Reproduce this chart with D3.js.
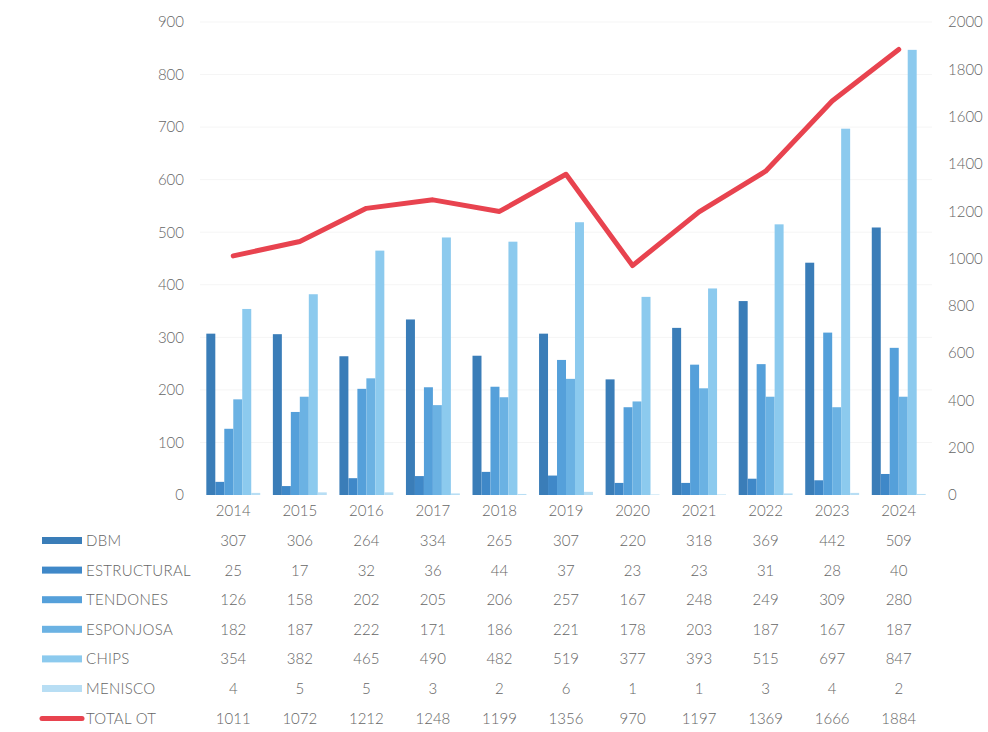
<!DOCTYPE html>
<html>
<head>
<meta charset="utf-8">
<script src="https://cdn.jsdelivr.net/npm/d3@7"></script>
<style>
  body { margin: 0; background: #fff; }
  text { font-family: Lato, "Open Sans", sans-serif; fill: #666; font-weight: 300; }
</style>
</head>
<body>
<script>
//data
var years = ["2014","2015","2016","2017","2018","2019","2020","2021","2022","2023","2024"];
var series = ["DBM","ESTRUCTURAL","TENDONES","ESPONJOSA","CHIPS","MENISCO"];
var dbm = [307,306,264,334,265,307,220,318,369,442,509];
var estructural = [25,17,32,36,44,37,23,23,31,28,40];
var tendones = [126,158,202,205,206,257,167,248,249,309,280];
var esponjosa = [182,187,222,171,186,221,178,203,187,167,187];
var chips = [354,382,465,490,482,519,377,393,515,697,847];
var menisco = [4,5,5,3,2,6,1,1,3,4,2];
var totalOT = [1011,1072,1212,1248,1199,1356,970,1197,1369,1666,1884];
var leftTicks = [0,100,200,300,400,500,600,700,800,900];
var rightTicks = [0,200,400,600,800,1000,1200,1400,1600,1800,2000];
var colors = ["#3a7db8","#3f88c8","#55a0da","#6bb2e3","#8ccaee","#b8def4"];
var lineColor = "#e8434f";

var w = 988, h = 732;
var values = [dbm, estructural, tendones, esponjosa, chips, menisco];

window.onload = function(){
    var svg = d3.select("body").append("svg")
        .attr("width", w)
        .attr("height", h);

    var x0 = d3.scaleBand().domain(years).range([200, 932]).paddingInner(0.19).paddingOuter(0.095);
    var x1 = d3.scaleBand().domain(series).range([0, x0.bandwidth()]);
    var yL = d3.scaleLinear().domain([0, 900]).range([495, 22]);
    var yR = d3.scaleLinear().domain([0, 2000]).range([495, 22]);

    //faint gridlines
    svg.append("g").selectAll("line")
        .data(leftTicks.slice(1))
        .enter().append("line")
        .attr("x1", 200).attr("x2", 932)
        .attr("y1", function(d){ return yL(d); })
        .attr("y2", function(d){ return yL(d); })
        .style("stroke", "#f5f5f5");

    //left axis
    var axL = svg.append("g").attr("transform", "translate(190,0)")
        .call(d3.axisLeft(yL).tickValues(leftTicks).tickSize(0).tickPadding(6).tickFormat(d3.format("d")));
    axL.select(".domain").remove();
    axL.selectAll("text").style("font-size", "15px").style("fill", "#666").style("font-family", "Lato, sans-serif").style("font-weight", 300);

    //right axis
    var axR = svg.append("g").attr("transform", "translate(942,0)")
        .call(d3.axisRight(yR).tickValues(rightTicks).tickSize(0).tickPadding(6).tickFormat(d3.format("d")));
    axR.select(".domain").remove();
    axR.selectAll("text").style("font-size", "15px").style("fill", "#666").style("font-family", "Lato, sans-serif").style("font-weight", 300);

    //bars
    series.forEach(function(s, i){
        svg.append("g").selectAll("rect")
            .data(values[i])
            .enter().append("rect")
            .attr("x", function(d, j){ return x0(years[j]) + x1(s); })
            .attr("width", x1.bandwidth())
            .attr("y", function(d){ return yL(d); })
            .attr("height", function(d){ return yL(0) - yL(d); })
            .style("fill", colors[i]);
    });

    //total line
    var line = d3.line()
        .x(function(d, j){ return x0(years[j]) + x0.bandwidth() / 2; })
        .y(function(d){ return yR(d); });
    svg.append("path")
        .datum(totalOT)
        .attr("d", line)
        .style("fill", "none")
        .style("stroke", lineColor)
        .style("stroke-width", 5)
        .style("stroke-linejoin", "round")
        .style("stroke-linecap", "round");

    //data table
    var cx = function(y){ return x0(y) + x0.bandwidth() / 2; };
    svg.append("g").selectAll("text")
        .data(years)
        .enter().append("text")
        .attr("x", cx)
        .attr("y", 516)
        .attr("text-anchor", "middle")
        .style("font-size", "15px")
        .text(function(d){ return d; });

    var rows = series.concat(["TOTAL OT"]);
    var rowVals = values.concat([totalOT]);
    rows.forEach(function(r, i){
        var ry = 541 + i * 29.6;
        if (i < 6) {
            svg.append("rect")
                .attr("x", 42).attr("y", ry - 4)
                .attr("width", 40).attr("height", 7)
                .style("fill", colors[i]);
        } else {
            svg.append("line")
                .attr("x1", 42).attr("x2", 82)
                .attr("y1", ry).attr("y2", ry)
                .style("stroke", lineColor)
                .style("stroke-width", 5)
                .style("stroke-linecap", "round");
        }
        svg.append("text")
            .attr("x", 86).attr("y", ry + 5)
            .style("font-size", "15px")
            .style("letter-spacing", "0.3px")
            .text(r);
        svg.append("g").selectAll("text")
            .data(rowVals[i])
            .enter().append("text")
            .attr("x", function(d, j){ return cx(years[j]); })
            .attr("y", ry + 5)
            .attr("text-anchor", "middle")
            .style("font-size", "15px")
            .text(function(d){ return d; });
    });
};
</script>
</body>
</html>
